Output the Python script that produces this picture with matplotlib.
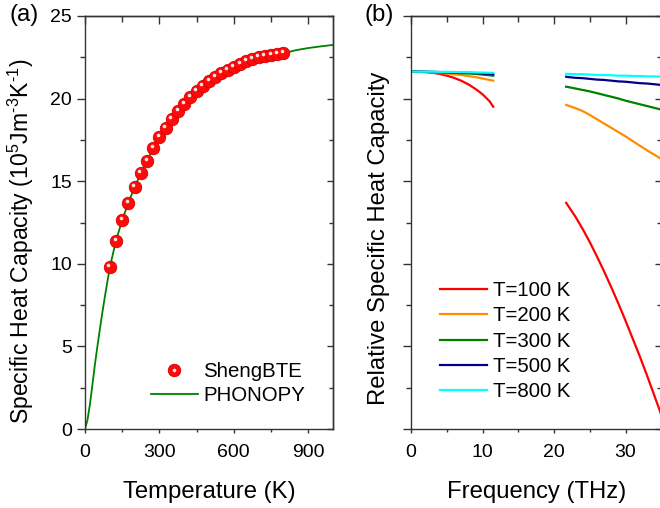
import numpy as np
import matplotlib
matplotlib.use("Agg")
import matplotlib.pyplot as plt
from matplotlib.ticker import MultipleLocator, FixedLocator
from matplotlib.transforms import offset_copy
from matplotlib.lines import Line2D
from matplotlib.legend_handler import HandlerTuple

plt.rcParams['font.family'] = ['Liberation Sans', 'DejaVu Sans']
plt.rcParams['mathtext.fontset'] = 'custom'
plt.rcParams['mathtext.rm'] = 'Liberation Sans'
plt.rcParams['mathtext.it'] = 'Liberation Sans:italic'
plt.rcParams['mathtext.bf'] = 'Liberation Sans:bold'

# ---------------- data: panel (a) ----------------
sheng_T = [100, 125, 150, 175, 200, 225, 250, 275, 300, 325, 350, 375, 400, 425,
           450, 475, 500, 525, 550, 575, 600, 625, 650, 675, 700, 725, 750, 775, 800]
sheng_C = [9.82, 11.40, 12.65, 13.70, 14.63, 15.48, 16.24, 16.99, 17.66, 18.25,
           18.78, 19.25, 19.68, 20.08, 20.43, 20.75, 21.04, 21.30, 21.54, 21.75,
           21.94, 22.10, 22.25, 22.38, 22.49, 22.57, 22.64, 22.69, 22.74]
phon_T = [0, 10, 20, 30, 40, 50, 60, 70, 80, 90, 100, 125, 150, 175, 200, 225, 250,
          275, 300, 325, 350, 375, 400, 425, 450, 475, 500, 525, 550, 575, 600, 625,
          650, 675, 700, 725, 750, 775, 800, 850, 900, 950, 1000]
phon_C = [0.0, 0.55, 1.5, 2.7, 3.9, 5.0, 6.05, 7.05, 8.0, 8.9, 9.78, 11.40, 12.65,
          13.70, 14.63, 15.48, 16.24, 16.99, 17.66, 18.25, 18.78, 19.25, 19.68,
          20.08, 20.43, 20.75, 21.04, 21.30, 21.54, 21.75, 21.94, 22.10, 22.25,
          22.38, 22.49, 22.57, 22.64, 22.69, 22.74, 22.93, 23.06, 23.16, 23.25]

# ---------------- data: panel (b) ----------------
f_low = [0, 1, 2, 3, 4, 5, 6, 7, 8, 9, 10, 11, 11.5]
f_high = [21.7, 22, 23, 24, 25, 26, 27, 28, 29, 30, 31, 32, 33, 34, 35]
labels_b = ['T=100 K', 'T=200 K', 'T=300 K', 'T=500 K', 'T=800 K']
low_100 = [1.0, 0.9999, 0.999, 0.997, 0.994, 0.989, 0.983, 0.975, 0.965, 0.952, 0.937, 0.917, 0.902]
low_200 = [1.0, 0.9998, 0.9992, 0.998, 0.997, 0.995, 0.993, 0.991, 0.988, 0.985, 0.981, 0.977, 0.975]
low_300 = [1.0, 1.0, 0.9997, 0.9993, 0.999, 0.998, 0.997, 0.996, 0.995, 0.994, 0.992, 0.990, 0.989]
low_500 = [1.0, 1.0, 1.0, 0.9996, 0.999, 0.9985, 0.998, 0.9975, 0.997, 0.996, 0.995, 0.994, 0.993]
low_800 = [1.0, 1.0, 1.0, 1.0, 0.9997, 0.9995, 0.9993, 0.999, 0.9985, 0.998, 0.9975, 0.997, 0.997]
high_100 = [0.633, 0.624, 0.594, 0.560, 0.523, 0.483, 0.441, 0.397, 0.351, 0.303, 0.253, 0.203, 0.150, 0.095, 0.040]
high_200 = [0.907, 0.905, 0.898, 0.890, 0.879, 0.867, 0.855, 0.843, 0.831, 0.819, 0.806, 0.793, 0.780, 0.768, 0.756]
high_300 = [0.958, 0.957, 0.953, 0.949, 0.945, 0.940, 0.935, 0.930, 0.925, 0.919, 0.914, 0.909, 0.904, 0.899, 0.894]
high_500 = [0.986, 0.985, 0.983, 0.982, 0.980, 0.978, 0.977, 0.975, 0.973, 0.972, 0.970, 0.968, 0.967, 0.965, 0.963]
high_800 = [0.994, 0.994, 0.993, 0.993, 0.992, 0.991, 0.991, 0.990, 0.989, 0.989, 0.988, 0.988, 0.987, 0.987, 0.986]
low_b = [low_100, low_200, low_300, low_500, low_800]
high_b = [high_100, high_200, high_300, high_500, high_800]
colors_b = ['#ff0000', '#ff8c00', '#008000', '#00008b', '#00ffff']

W, H = 660, 508
fig = plt.figure(figsize=(W / 100, H / 100), dpi=100)

def frac_box(x0, y0, x1, y1):
    return [x0 / W, 1 - y1 / H, (x1 - x0) / W, (y1 - y0) / H]

axA = fig.add_axes(frac_box(85, 16, 333, 429))
axB = fig.add_axes(frac_box(411, 16, 661.3, 429))

SPC = '#333333'
TICK_FS = 14
LAB_FS = 17.2
LEG_FS = 14.7

def style(ax, xmaj, xmin, ymaj, ymin):
    for s in ax.spines.values():
        s.set_linewidth(1.0)
        s.set_color(SPC)
    ax.xaxis.set_major_locator(xmaj)
    ax.xaxis.set_minor_locator(xmin)
    ax.yaxis.set_major_locator(ymaj)
    ax.yaxis.set_minor_locator(ymin)
    ax.tick_params(axis='x', which='major', direction='out', length=3, width=1.0,
                   color=SPC, labelsize=TICK_FS, pad=8)
    ax.tick_params(axis='x', which='minor', direction='out', length=2.2, width=1.0, color=SPC)
    ax.tick_params(axis='y', which='major', direction='out', length=5.5, width=1.0,
                   color=SPC, labelsize=TICK_FS, pad=3.8)
    ax.tick_params(axis='y', which='minor', direction='out', length=3.5, width=1.0, color=SPC)
    top = ax.secondary_xaxis('top')
    top.xaxis.set_major_locator(xmaj)
    top.xaxis.set_minor_locator(xmin)
    top.tick_params(which='major', direction='in', length=6, width=1.0, color=SPC, labeltop=False)
    top.tick_params(which='minor', direction='in', length=4.5, width=1.0, color=SPC)
    top.spines['top'].set_linewidth(1.0)
    top.spines['top'].set_color(SPC)
    right = ax.secondary_yaxis('right')
    right.yaxis.set_major_locator(ymaj)
    right.yaxis.set_minor_locator(ymin)
    right.tick_params(which='major', direction='in', length=4, width=1.0, color=SPC, labelright=False)
    right.tick_params(which='minor', direction='in', length=3, width=1.0, color=SPC)
    right.spines['right'].set_linewidth(1.0)
    right.spines['right'].set_color(SPC)

# ---------------- panel (a) ----------------
MS = 9.0
HL_MS = 2.6
HL_C = '#ffe2e2'
axA.plot(phon_T, phon_C, color='#008000', lw=1.3, zorder=2)
axA.plot(sheng_T, sheng_C, ls='none', marker='o', ms=MS, mfc='#ff0a0a',
         mec='#d80000', mew=0.6, zorder=3)
hl = offset_copy(axA.transData, fig=fig, x=-1.5, y=2.0, units='dots')
axA.plot(sheng_T, sheng_C, ls='none', marker='o', ms=HL_MS, mfc=HL_C,
         mec='none', transform=hl, zorder=4)
axA.set_xlim(0, 1000)
axA.set_ylim(0, 25)
style(axA, MultipleLocator(300), MultipleLocator(150), MultipleLocator(5), MultipleLocator(2.5))
axA.set_xlabel('Temperature (K)', fontsize=LAB_FS)
axA.set_ylabel(r'Specific Heat Capacity (10$^{5}$Jm$^{\text{-}3}$K$^{\text{-}1}$)', fontsize=16.6)
axA.xaxis.set_label_coords(0.5, -0.126)
axA.yaxis.set_label_coords(-0.197, 0.455)

h_sheng = (Line2D([], [], ls='none', marker='o', ms=MS, mfc='#ff0a0a', mec='#d80000', mew=0.6),
           Line2D([], [], ls='none', marker='o', ms=HL_MS, mfc=HL_C, mec='none'))
h_phon = Line2D([], [], color='#008000', lw=1.3)
axA.legend([h_sheng, h_phon], ['ShengBTE', 'PHONOPY'], loc='center left',
           bbox_to_anchor=(150.7 / W, 1 - 383.5 / H), bbox_transform=fig.transFigure,
           frameon=False, fontsize=LEG_FS, handlelength=2.3, handletextpad=0.28,
           labelspacing=0.25, borderpad=0, borderaxespad=0,
           handler_map={tuple: HandlerTuple(ndivide=1, pad=0)})

# ---------------- panel (b) ----------------
for name, c, lo, hi in zip(labels_b, colors_b, low_b, high_b):
    axB.plot(f_low, lo, color=c, lw=1.6, label=name)
    axB.plot(f_high, hi, color=c, lw=1.6)
axB.set_xlim(0, 35)
YTOP = 1.156
axB.set_ylim(0, YTOP)
ymaj = [YTOP * i / 5 for i in range(6)]
ymin = [YTOP * (i + 0.5) / 5 for i in range(5)]
style(axB, MultipleLocator(10), MultipleLocator(5), FixedLocator(ymaj), FixedLocator(ymin))
axB.tick_params(axis='y', labelleft=False)
axB.set_xlabel('Frequency (THz)', fontsize=LAB_FS)
axB.set_ylabel('Relative Specific Heat Capacity', fontsize=LAB_FS)
axB.xaxis.set_label_coords(0.5, -0.126)
axB.yaxis.set_label_coords(-0.084, 0.4625)
axB.legend(loc='center left', bbox_to_anchor=(440 / W, 1 - 341.3 / H),
           bbox_transform=fig.transFigure, frameon=False, fontsize=LEG_FS,
           handlelength=2.3, handletextpad=0.28, labelspacing=0.31,
           borderpad=0, borderaxespad=0)

fig.text(9.3 / W, 1 - 14.7 / H, '(a)', fontsize=LAB_FS, ha='left', va='center')
fig.text(364 / W, 1 - 14.7 / H, '(b)', fontsize=LAB_FS, ha='left', va='center')

fig.savefig('out.png', dpi=100)
